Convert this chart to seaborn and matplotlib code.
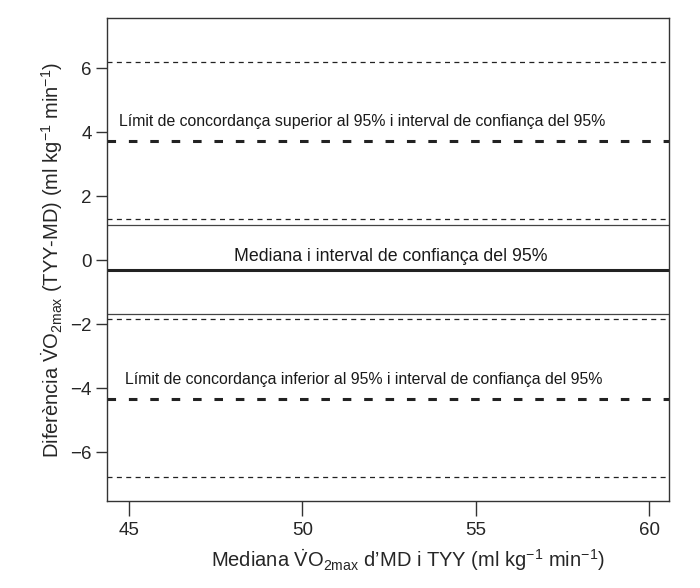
import matplotlib
matplotlib.use("Agg")
import matplotlib.pyplot as plt
import seaborn as sns

# horizontal reference lines (ml kg-1 min-1)
upper_loa = 3.74
upper_loa_ci = [6.18, 1.30]
median_diff = -0.30
median_ci = [1.09, -1.67]
lower_loa = -4.32
lower_loa_ci = [-1.85, -6.76]

x_ticks = [45, 50, 55, 60]
y_ticks = [-6, -4, -2, 0, 2, 4, 6]

labels = [
    "Límit de concordança superior al 95% i interval de confiança del 95%",
    "Mediana i interval de confiança del 95%",
    "Límit de concordança inferior al 95% i interval de confiança del 95%",
]
label_x = [51.72, 52.56, 51.78]
label_y = [4.33, 0.12, -3.72]
label_size = [11.4, 12.8, 11.4]

sns.set_theme(style="ticks")
plt.rcParams["font.family"] = ["Liberation Sans", "DejaVu Sans"]
plt.rcParams["mathtext.fontset"] = "custom"
plt.rcParams["mathtext.rm"] = "Liberation Sans"
plt.rcParams["mathtext.it"] = "Liberation Sans:italic"
plt.rcParams["mathtext.bf"] = "Liberation Sans:bold"

fig = plt.figure(figsize=(7, 5.88), dpi=100)
ax = fig.add_axes([0.153, 0.148, 0.803, 0.821])

ink = "#222222"
for v in [upper_loa, lower_loa]:
    ax.axhline(v, color=ink, lw=2.2, ls=(0, (2.8, 4.2)))
for v in upper_loa_ci + lower_loa_ci:
    ax.axhline(v, color=ink, lw=0.9, ls=(0, (4, 3.5)))
ax.axhline(median_diff, color=ink, lw=2.2)
for v in median_ci:
    ax.axhline(v, color="#444444", lw=0.9)

for t, x, y, fs in zip(labels, label_x, label_y, label_size):
    ax.text(x, y, t, ha="center", va="center", fontsize=fs, color="#1a1a1a")

ax.set_xlim(44.37, 60.58)
ax.set_ylim(-7.52, 7.56)
ax.set_xticks(x_ticks)
ax.set_yticks(y_ticks)
ax.set_yticklabels(["\u2212" + str(-t) if t < 0 else str(t) for t in y_ticks])

for s in ax.spines.values():
    s.set_color("#333333")
    s.set_linewidth(1.0)
ax.tick_params(axis="x", length=11, width=1, color="#333333", labelsize=13.5, pad=4)
ax.tick_params(axis="y", length=8, width=1, color="#333333", labelsize=13.5, pad=3)

ax.set_xlabel(r"Mediana $\dot{\mathrm{V}}\mathrm{O}_{\mathrm{2max}}$ d’MD i TYY (ml kg$^{-1}$ min$^{-1}$)",
              fontsize=14.5, labelpad=6)
ax.xaxis.set_label_coords(0.536, -0.095)
ax.set_ylabel(r"Diferència $\dot{\mathrm{V}}\mathrm{O}_{\mathrm{2max}}$ (TYY-MD) (ml kg$^{-1}$ min$^{-1}$)",
              fontsize=14.5, labelpad=4)

fig.savefig("out.png", dpi=100)
